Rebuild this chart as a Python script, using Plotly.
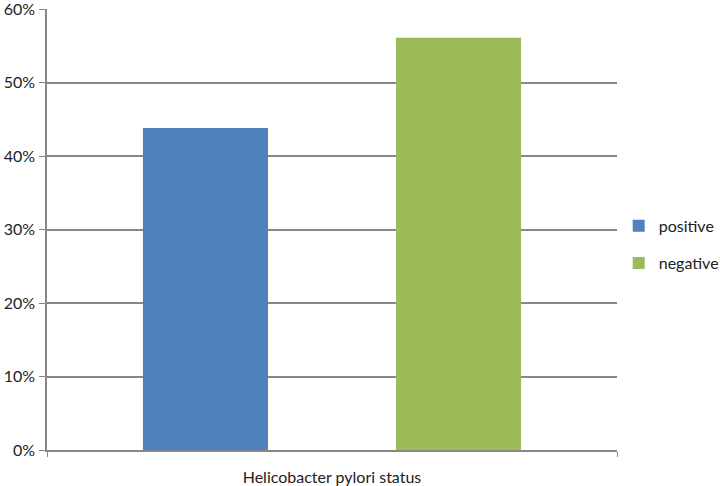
import plotly.graph_objects as go

# Data
category = ["Helicobacter pylori status"]
series = ["positive", "negative"]
values = [43.8, 56.1]
colors = ["#4F81BD", "#9BBB59"]
y_ticks = [0, 10, 20, 30, 40, 50, 60]

FONT = "Lato, Open Sans, sans-serif"
GRID = "#878787"

fig = go.Figure()
legends = ["legend", "legend2"]
for name, val, col, lg in zip(series, values, colors, legends):
    fig.add_trace(go.Bar(
        x=category,
        y=[val],
        name=name,
        marker=dict(color=col, line=dict(width=0)),
        legend=lg,
    ))

legend_style = dict(
    font=dict(family=FONT, size=16, color="#222222"),
    bgcolor="rgba(0,0,0,0)",
    xanchor="left",
    yanchor="middle",
    itemwidth=30,
)

fig.update_layout(
    width=720,
    height=486,
    margin=dict(l=47, r=103, t=9, b=36, autoexpand=False),
    paper_bgcolor="white",
    plot_bgcolor="white",
    barmode="group",
    bargap=0.112,
    bargroupgap=0.506,
    font=dict(family=FONT, size=16, color="#222222"),
    legend=dict(x=1.003, y=0.508, **legend_style),
    legend2=dict(x=1.003, y=0.424, **legend_style),
    showlegend=True,
)

fig.update_xaxes(
    automargin=False,
    showline=True,
    linecolor=GRID,
    linewidth=1.5,
    ticks="outside",
    tickson="boundaries",
    ticklen=5,
    tickcolor=GRID,
    showgrid=False,
    ticklabelstandoff=12,
    tickfont=dict(family=FONT, size=16, color="#222222"),
)

fig.update_yaxes(
    automargin=False,
    range=[0, 60],
    tickvals=y_ticks,
    ticktext=[f"{t}%" for t in y_ticks],
    showline=True,
    linecolor=GRID,
    linewidth=1.5,
    ticks="outside",
    ticklen=6,
    tickcolor=GRID,
    ticklabeloverflow="allow",
    ticklabelstandoff=1,
    showgrid=True,
    gridcolor=GRID,
    gridwidth=1.5,
    zeroline=False,
    tickfont=dict(family=FONT, size=16, color="#222222"),
)

# page body has a default 8px margin; drop it so the figure sits at 0,0
fig.write_html(
    "out.html",
    config={"displayModeBar": False},
    post_script="document.body.style.margin='0';",
)
